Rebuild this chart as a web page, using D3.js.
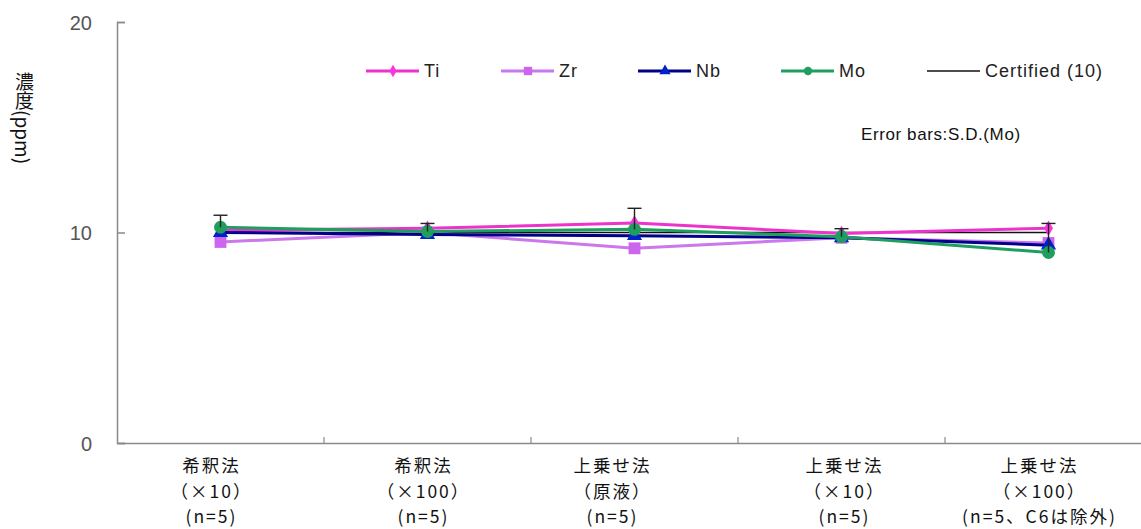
<!DOCTYPE html>
<html><head><meta charset="utf-8">
<script src="https://cdn.jsdelivr.net/npm/d3@7"></script>
<style>
html,body{margin:0;padding:0;background:#fff;}
svg{display:block;}
</style></head>
<body>
<svg id="chart" width="1141" height="529"></svg>
<script>
const categories = ["cat1","cat2","cat3","cat4","cat5"];
const catLabels = [
  ["希釈法","（×10）","(n=5)"],
  ["希釈法","（×100）","(n=5)"],
  ["上乗せ法","（原液）","(n=5)"],
  ["上乗せ法","（×10）","(n=5)"],
  ["上乗せ法","（×100）","(n=5、C6は除外)"]
];
const tiValues = [10.1, 10.2, 10.45, 9.95, 10.2];
const zrValues = [9.55, 10.0, 9.25, 9.75, 9.5];
const nbValues = [10.0, 9.9, 9.85, 9.75, 9.4];
const moValues = [10.25, 10.05, 10.15, 9.8, 9.05];
const moSD = [0.57, 0.38, 1.0, 0.38, 1.38];
const certified = [10, 10, 10, 10, 10];
const yTicks = [0, 10, 20];

// layout-only label offsets (px)
const labelShift = [-10, -5, -23, 2, -10];

const svg = d3.select("#chart");
const x = d3.scaleBand().domain(categories).range([117, 1152]).padding(0);
const y = d3.scaleLinear().domain([0, 20]).range([443, 22]);
const cx = c => x(c) + x.bandwidth() / 2;

// axes
const yAxis = d3.axisLeft(y).tickValues(yTicks).tickSize(-8).tickPadding(25);
const gy = svg.append("g").attr("transform", "translate(117,0)").call(yAxis);
gy.select(".domain").attr("stroke", "#8a8a8a").attr("stroke-width", 1.5);
gy.selectAll(".tick line").attr("stroke", "#8a8a8a").attr("stroke-width", 1.5);
gy.selectAll(".tick text").attr("font-family", "Liberation Sans, Arial, sans-serif")
  .attr("font-size", 20).attr("fill", "#555").attr("dy", "0.36em");

const xAxis = d3.axisBottom(x).tickSize(0).tickFormat("");
const gx = svg.append("g").attr("transform", "translate(0,443)").call(xAxis);
gx.select(".domain").attr("stroke", "#8a8a8a").attr("stroke-width", 1.5);
const bounds = categories.slice(1).map(c => x(c));
gx.selectAll(".btick").data(bounds).enter().append("line")
  .attr("x1", d => d).attr("x2", d => d).attr("y1", 0).attr("y2", -6)
  .attr("stroke", "#8a8a8a").attr("stroke-width", 1.2);

// category labels
const lab = svg.append("g");
categories.forEach((c, i) => {
  const t = lab.append("text").attr("text-anchor", "middle")
    .attr("font-family", "Noto Sans CJK JP, sans-serif").attr("font-size", 17.5)
    .attr("letter-spacing", 2).attr("fill", "#111");
  catLabels[i].forEach((s, j) => {
    t.append("tspan").attr("x", cx(c) + labelShift[i] + 1).attr("y", 472 + j * 25.5).text(s);
  });
});

// y title: one text, rotated, with the two kanji turned upright
svg.append("text")
  .attr("transform", "translate(15,70) rotate(90)")
  .attr("font-family", "Noto Sans CJK JP, sans-serif").attr("font-size", 19).attr("fill", "#111")
  .attr("rotate", "-90 -90 0 0 0 0 0")
  .attr("dx", "19 0 -17")
  .text("濃度(ppm)");

const line = d3.line().x((d, i) => cx(categories[i])).y(d => y(d));

svg.append("path").datum(certified).attr("d", line).attr("fill", "none")
  .attr("stroke", "#111").attr("stroke-width", 1.3);

const series = [
  {name: "Ti", values: tiValues, color: "#ee33cc", mcolor: "#ff33dd", shape: d3.symbolDiamond, size: 70},
  {name: "Zr", values: zrValues, color: "#cc77ee", mcolor: "#cc66ee", shape: d3.symbolSquare, size: 140},
  {name: "Nb", values: nbValues, color: "#000088", mcolor: "#0022cc", shape: d3.symbolTriangle, size: 100},
  {name: "Mo", values: moValues, color: "#1f9e60", mcolor: "#1f9e60", shape: d3.symbolCircle, size: 130}
];

series.forEach(s => {
  svg.append("path").datum(s.values).attr("d", line).attr("fill", "none")
    .attr("stroke", s.color).attr("stroke-width", 3);
  svg.append("g").selectAll("path").data(s.values).enter().append("path")
    .attr("d", d3.symbol().type(s.shape).size(s.size))
    .attr("transform", (d, i) => `translate(${cx(categories[i])},${y(d)})`)
    .attr("fill", s.mcolor);
});

// error bars (Mo, plus only)
const eb = svg.append("g").attr("stroke", "#222").attr("stroke-width", 1.4);
moValues.forEach((v, i) => {
  const xc = cx(categories[i]);
  eb.append("line").attr("x1", xc).attr("x2", xc).attr("y1", y(v)).attr("y2", y(v + moSD[i]));
  eb.append("line").attr("x1", xc - 7).attr("x2", xc + 7).attr("y1", y(v + moSD[i])).attr("y2", y(v + moSD[i]));
});

// legend
const legendItems = [
  {name: "Ti", color: "#ee33cc", mcolor: "#ff33dd", shape: d3.symbolDiamond, size: 45, x: 366},
  {name: "Zr", color: "#cc77ee", mcolor: "#cc66ee", shape: d3.symbolSquare, size: 70, x: 501},
  {name: "Nb", color: "#000088", mcolor: "#0022cc", shape: d3.symbolTriangle, size: 55, x: 638},
  {name: "Mo", color: "#1f9e60", mcolor: "#1f9e60", shape: d3.symbolCircle, size: 55, x: 781},
  {name: "Certified (10)", color: "#111", mcolor: null, shape: null, size: 0, x: 927}
];
const lg = svg.append("g");
legendItems.forEach(it => {
  lg.append("line").attr("x1", it.x).attr("x2", it.x + 53).attr("y1", 71).attr("y2", 71)
    .attr("stroke", it.color).attr("stroke-width", it.shape ? 3 : 1.3);
  if (it.shape) {
    lg.append("path").attr("d", d3.symbol().type(it.shape).size(it.size)())
      .attr("transform", `translate(${it.x + 27},71)`).attr("fill", it.mcolor);
  }
  lg.append("text").attr("x", it.x + 58).attr("y", 77)
    .attr("font-family", "Liberation Sans, Arial, sans-serif").attr("font-size", 18)
    .attr("letter-spacing", 1).attr("fill", "#222")
    .text(it.name);
});

svg.append("text").attr("x", 861).attr("y", 140)
  .attr("font-family", "Liberation Sans, Arial, sans-serif").attr("font-size", 17)
  .attr("letter-spacing", 0.6).attr("fill", "#111")
  .text("Error bars:S.D.(Mo)");
</script>
</body></html>
